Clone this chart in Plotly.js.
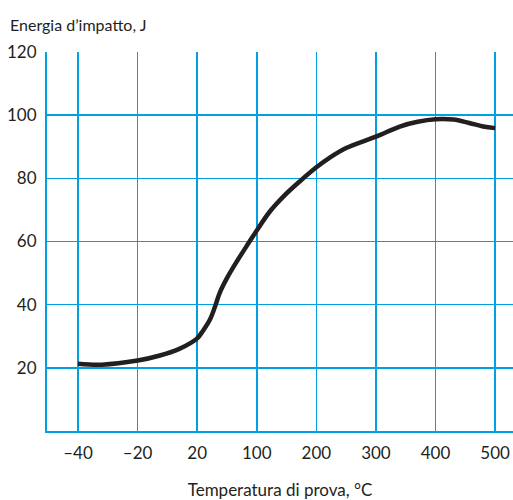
<!DOCTYPE html>
<html><head><meta charset="utf-8">
<script src="https://cdn.plot.ly/plotly-3.0.1.min.js"></script>
<style>html,body{margin:0;padding:0;background:#fff;}</style>
</head><body><div id="chart" style="width:513px;height:500px;"></div>
<script>
// Tick temperatures (axis is evenly spaced between these labels)
const tickTemps = [-40, -20, 20, 100, 200, 300, 400, 500];
const tickLabels = ['\u201340', '\u201320', '20', '100', '200', '300', '400', '500'];
const yTicks = [20, 40, 60, 80, 100, 120];

// Curve: test temperature (°C) and impact energy (J)
const temps = [-40, -32, -20, -5, 8, 16, 20, 28, 37, 44, 50, 60, 73, 89, 100, 122, 145, 172, 200, 222, 250, 300, 340, 370, 400, 430, 455, 480, 500];
const energy = [21.3, 21.0, 22.3, 23.9, 26, 28.0, 29.3, 31.8, 35.2, 39.4, 43.6, 48.4, 53.6, 59.5, 63.5, 69.5, 74.3, 79.0, 83.5, 86.5, 89.6, 93.2, 96.4, 97.9, 98.7, 98.6, 97.6, 96.4, 95.9];

// piecewise-linear mapping of temperature onto evenly spaced tick positions
function pos(t) {
  for (let i = 0; i < tickTemps.length - 1; i++) {
    if (t <= tickTemps[i + 1]) {
      return i + (t - tickTemps[i]) / (tickTemps[i + 1] - tickTemps[i]);
    }
  }
  return tickTemps.length - 1;
}

const blue = '#00a0e3';
const ink = '#231f20';
const font = 'Lato, "Open Sans", sans-serif';

const trace = {
  x: temps.map(pos), y: energy, mode: 'lines', type: 'scatter',
  line: {color: ink, width: 4.5, shape: 'spline', smoothing: 1},
  hoverinfo: 'skip'
};

const layout = {
  width: 513, height: 500,
  margin: {l: 47, r: 0, t: 52, b: 69},
  paper_bgcolor: '#fff', plot_bgcolor: '#fff',
  showlegend: false,
  font: {family: font, color: ink, size: 17},
  xaxis: {
    range: [-0.52, 7.30], tickmode: 'array',
    tickvals: tickTemps.map((t, i) => i), ticktext: tickLabels,
    showgrid: true, gridcolor: blue, gridwidth: 1.5,
    zeroline: false, showline: true, linecolor: blue, linewidth: 2,
    ticks: '', ticklabelstandoff: 6,
    tickfont: {family: font, size: 17, color: ink},
    title: {text: 'Temperatura di prova, \u00b0C', font: {family: font, size: 17, color: ink}, standoff: 28}
  },
  yaxis: {
    range: [0, 120], tickmode: 'array', tickvals: yTicks,
    showgrid: true, gridcolor: blue, gridwidth: 1.5,
    zeroline: false, showline: true, linecolor: blue, linewidth: 2,
    ticks: '', ticklabelstandoff: 5,
    tickfont: {family: font, size: 17, color: ink}
  },
  annotations: [{
    text: 'Energia d\u2019impatto, J', xref: 'paper', yref: 'paper',
    x: -47/466, y: 1, xanchor: 'left', yanchor: 'bottom', yshift: 16, xshift: 8,
    showarrow: false, font: {family: font, size: 16, color: ink}
  }]
};

Plotly.newPlot('chart', [trace], layout, {displayModeBar: false, staticPlot: true});
</script></body></html>
